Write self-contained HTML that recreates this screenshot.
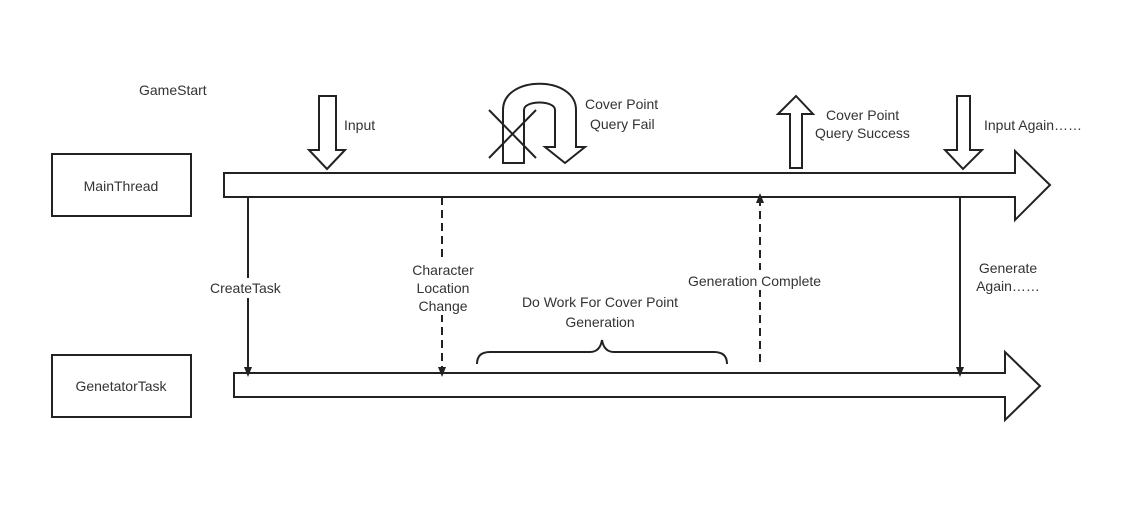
<!DOCTYPE html>
<html><head><style>body{margin:0;background:#fff}svg{display:block}text{font-family:"Liberation Sans",sans-serif;font-size:14px;fill:#333}</style></head>
<body>
<svg width="1146" height="515" viewBox="0 0 1146 515">
<defs><marker id="ah" markerWidth="10" markerHeight="10" refX="5" refY="5" orient="auto" markerUnits="userSpaceOnUse"><path d="M0,1 L10,5 L0,9 Z" fill="#222"/></marker></defs>
<g fill="#fff" stroke="#222" stroke-width="2">
<rect x="52" y="154" width="139" height="62"/>
<rect x="52" y="355" width="139" height="62"/>
<path d="M224,173 L1015,173 L1015,151 L1050,185 L1015,220 L1015,197 L224,197 Z"/>
<path d="M234,373 L1005,373 L1005,352 L1040,386 L1005,420 L1005,397 L234,397 Z"/>
<path d="M319,96 L336,96 L336,150 L345,150 L327,169 L309,150 L319,150 Z"/>
<path d="M957,96 L970,96 L970,150 L982,150 L963,169 L945,150 L957,150 Z"/>
<path d="M790,168 L802,168 L802,114 L813,114 L796,96 L778,114 L790,114 Z"/>
<path d="M503,163 L503,110 C503,75 576,75 576,110 L576,147 L585,147 L565,163 L545,147 L555,147 L555,110 C555,100 524,100 524,110 L524,163 Z"/>
</g>
<g stroke="#222" stroke-width="2" fill="none">
<line x1="489" y1="110" x2="536" y2="158"/><line x1="536" y1="110" x2="489" y2="158"/>
<line x1="248" y1="197" x2="248" y2="372" marker-end="url(#ah)"/>
<line x1="442" y1="197" x2="442" y2="372" stroke-dasharray="8,5" marker-end="url(#ah)"/>
<line x1="760" y1="362" x2="760" y2="198" stroke-dasharray="8,5" marker-end="url(#ah)"/>
<line x1="960" y1="197" x2="960" y2="372" marker-end="url(#ah)"/>
<path d="M477,364 Q477,352 490,352 L590,352 Q600,352 602,340 Q604,352 614,352 L714,352 Q727,352 727,364"/>
</g>
<rect x="686" y="270" width="150" height="20" fill="#fff"/>
<rect x="205" y="278" width="90" height="20" fill="#fff"/>
<rect x="405" y="260" width="75" height="55" fill="#fff"/>
<rect x="972" y="258" width="75" height="38" fill="#fff"/>
<text x="121" y="191" text-anchor="middle">MainThread</text>
<text x="121" y="391" text-anchor="middle">GenetatorTask</text>
<text x="139" y="95">GameStart</text>
<text x="344" y="130">Input</text>
<text x="585" y="109">Cover Point</text>
<text x="590" y="129">Query Fail</text>
<text x="826" y="120">Cover Point</text>
<text x="815" y="138">Query Success</text>
<text x="984" y="130">Input Again……</text>
<text x="210" y="293">CreateTask</text>
<text x="443" y="275" text-anchor="middle">Character</text>
<text x="443" y="293" text-anchor="middle">Location</text>
<text x="443" y="311" text-anchor="middle">Change</text>
<text x="600" y="307" text-anchor="middle">Do Work For Cover Point</text>
<text x="600" y="327" text-anchor="middle">Generation</text>
<text x="688" y="286">Generation Complete</text>
<text x="1008" y="273" text-anchor="middle">Generate</text>
<text x="1008" y="291" text-anchor="middle">Again……</text>
</svg>
</body></html>
